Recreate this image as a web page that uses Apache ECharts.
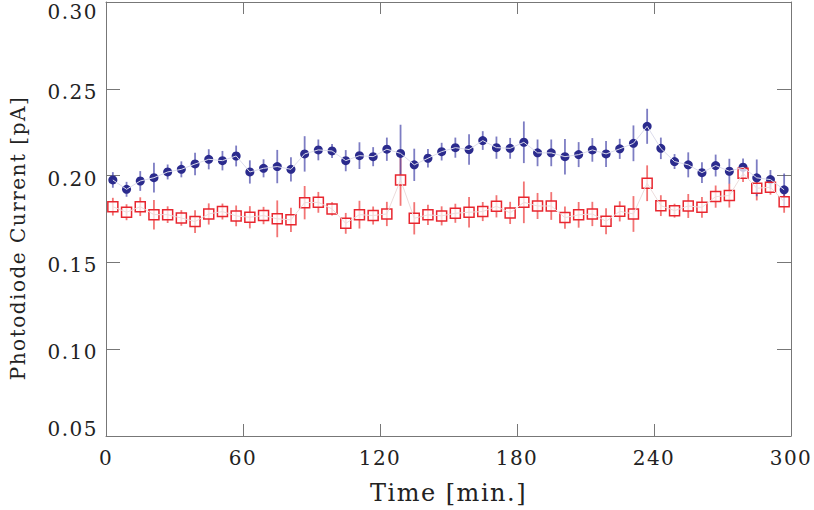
<!DOCTYPE html>
<html>
<head>
<meta charset="utf-8">
<script src="https://cdn.jsdelivr.net/npm/echarts@6/dist/echarts.min.js"></script>
<style>
html,body{margin:0;padding:0;background:#fff;}
#chart{width:814px;height:510px;}
#chart text{letter-spacing:1.5px;}
</style>
</head>
<body>
<div id="chart"></div>
<script>
// Time (minutes)
var times = [3,9,15,21,27,33,39,45,51,57,63,69,75,81,87,93,99,105,111,117,123,129,135,141,147,153,159,165,171,177,183,189,195,201,207,213,219,225,231,237,243,249,255,261,267,273,279,285,291,297];
// Blue series (filled circles)
var blueValues = [0.1975,0.1921,0.1969,0.1988,0.2021,0.2036,0.2067,0.2094,0.2086,0.2113,0.2021,0.2042,0.2052,0.2036,0.2125,0.2148,0.2142,
  0.2086,0.2115,0.2109,0.2152,0.2128,0.2062,0.2100,0.2138,0.2161,0.2150,0.2202,0.2161,0.2157,0.2192,0.2131,0.2131,0.2109,
  0.2121,0.2148,0.2125,0.2154,0.2186,0.2284,0.2157,0.2081,0.2062,0.2017,0.2058,0.2025,0.2048,0.1987,0.1977,0.1918];
var blueErrors = [0.0045,0.0043,0.0057,0.0086,0.0043,0.0046,0.0065,0.0058,0.0056,0.006,0.0067,0.0052,0.0096,0.007,0.0102,0.006,0.004,
  0.0061,0.0077,0.0055,0.0067,0.0165,0.0093,0.0053,0.0051,0.0058,0.0088,0.0054,0.0064,0.006,0.012,0.0077,0.0077,0.0102,
  0.0072,0.0068,0.0075,0.0058,0.0103,0.0101,0.0062,0.0043,0.0072,0.006,0.0063,0.0072,0.0051,0.0106,0.0055,0.0094];
// Red series (open squares)
var redValues = [0.1821,0.1789,0.1821,0.1775,0.1775,0.1756,0.1735,0.1779,0.1793,0.1768,0.1760,0.1770,0.1751,0.1745,0.1844,0.1846,0.1808,
  0.1725,0.1775,0.1770,0.1779,0.1975,0.1754,0.1774,0.1768,0.1783,0.1789,0.1793,0.1823,0.1785,0.1846,0.1825,0.1825,0.1758,
  0.1774,0.1779,0.1737,0.1794,0.1779,0.1956,0.1827,0.1798,0.1825,0.1817,0.1879,0.1885,0.2013,0.1927,0.1933,0.1850];
var redErrors = [0.0051,0.0046,0.0054,0.0085,0.0048,0.0045,0.0065,0.0061,0.0046,0.006,0.0064,0.005,0.0106,0.007,0.0096,0.006,0.0038,
  0.006,0.008,0.0052,0.007,0.0149,0.0093,0.0058,0.0055,0.0055,0.0088,0.0055,0.0064,0.0064,0.012,0.0075,0.008,0.0064,
  0.0074,0.007,0.0075,0.0058,0.0103,0.0103,0.006,0.004,0.0069,0.006,0.0064,0.0069,0.005,0.007,0.0043,0.0064];
// Axis ticks
var xTicks = [0,60,120,180,240,300];
var yTicks = [0.05,0.10,0.15,0.20,0.25,0.30];

var FONT = 'DejaVu Serif';
var AXIS_COLOR = '#777';

function pts(vals){ return times.map(function(t,i){ return [t, vals[i]]; }); }
function errs(vals, e){ return times.map(function(t,i){ return [t, vals[i]-e[i], vals[i]+e[i]]; }); }
function errRender(color){
  return function(params, api){
    var x = api.value(0);
    var p1 = api.coord([x, api.value(1)]);
    var p2 = api.coord([x, api.value(2)]);
    return {type:'line', shape:{x1:p1[0],y1:p1[1],x2:p2[0],y2:p2[1]},
      style:{stroke:color, lineWidth:1.8}};
  };
}

var chart = echarts.init(document.getElementById('chart'), null, {renderer:'svg'});
var xCommon = {
  type:'value', min:xTicks[0], max:xTicks[xTicks.length-1], interval:xTicks[1]-xTicks[0],
  axisLine:{show:true, onZero:false, lineStyle:{color:AXIS_COLOR, width:1}},
  axisTick:{show:true, inside:true, length:12, lineStyle:{color:AXIS_COLOR, width:1}},
  splitLine:{show:false}
};
var yCommon = {
  type:'value', min:yTicks[0], max:yTicks[yTicks.length-1], interval:0.05,
  axisLine:{show:true, onZero:false, lineStyle:{color:AXIS_COLOR, width:1}},
  axisTick:{show:true, inside:true, length:14, lineStyle:{color:AXIS_COLOR, width:1}},
  splitLine:{show:false}
};
var option = {
  animation:false,
  backgroundColor:'#fff',
  grid:{left:105, right:23, top:2, bottom:74, containLabel:false},
  xAxis:[
    Object.assign({}, xCommon, {position:'bottom',
      axisLabel:{show:true, fontFamily:FONT, fontSize:20, color:'#222', margin:12},
      name:'Time [min.]', nameLocation:'middle', nameGap:45,
      nameTextStyle:{fontFamily:FONT, fontSize:24, color:'#222'}}),
    Object.assign({}, xCommon, {position:'top', axisLabel:{show:false}})
  ],
  yAxis:[
    Object.assign({}, yCommon, {position:'left',
      axisLabel:{show:true, fontFamily:FONT, fontSize:20, color:'#222', margin:8,
        formatter:function(v){
          var s = v.toFixed(2);
          if (Math.abs(v - yTicks[yTicks.length-1]) < 1e-9) return '{top|' + s + '}';
          if (Math.abs(v - yTicks[0]) < 1e-9) return '{bot|' + s + '}';
          return '{n|' + s + '}';
        },
        rich:{
          n:{fontFamily:FONT, fontSize:20, color:'#222', padding:[6,0,0,0]},
          top:{fontFamily:FONT, fontSize:20, color:'#222', padding:[20,0,0,0]},
          bot:{fontFamily:FONT, fontSize:20, color:'#222', padding:[0,0,14,0]}
        }},
      name:'Photodiode Current [pA]', nameLocation:'middle', nameGap:78,
      nameTextStyle:{fontFamily:FONT, fontSize:20, color:'#222', padding:[0,38,0,0]}}),
    Object.assign({}, yCommon, {position:'right', axisLabel:{show:false}})
  ],
  series:[
    {type:'custom', name:'redErr', renderItem:errRender('rgba(238,70,70,0.75)'),
      data:errs(redValues, redErrors), encode:{x:0, y:[1,2]}, z:2},
    {type:'custom', name:'blueErr', renderItem:errRender('rgba(70,70,170,0.7)'),
      data:errs(blueValues, blueErrors), encode:{x:0, y:[1,2]}, z:2},
    {type:'scatter', name:'blue', data:pts(blueValues), symbol:'circle', symbolSize:9,
      itemStyle:{color:'#2b2b8d', opacity:1}, z:3},
    {type:'scatter', name:'red', data:pts(redValues), symbol:'rect', symbolSize:10,
      itemStyle:{color:'rgba(255,255,255,0.75)', borderColor:'#e8262f', borderWidth:1.5, opacity:1}, z:4},
    {type:'line', name:'blueLine', data:pts(blueValues), showSymbol:false, symbol:'none',
      lineStyle:{color:'#dcdcec', width:1}, z:6, silent:true},
    {type:'line', name:'redLine', data:pts(redValues), showSymbol:false, symbol:'none',
      lineStyle:{color:'#ecdcdc', width:1}, z:6, silent:true}
  ]
};
chart.setOption(option);
</script>
</body>
</html>
